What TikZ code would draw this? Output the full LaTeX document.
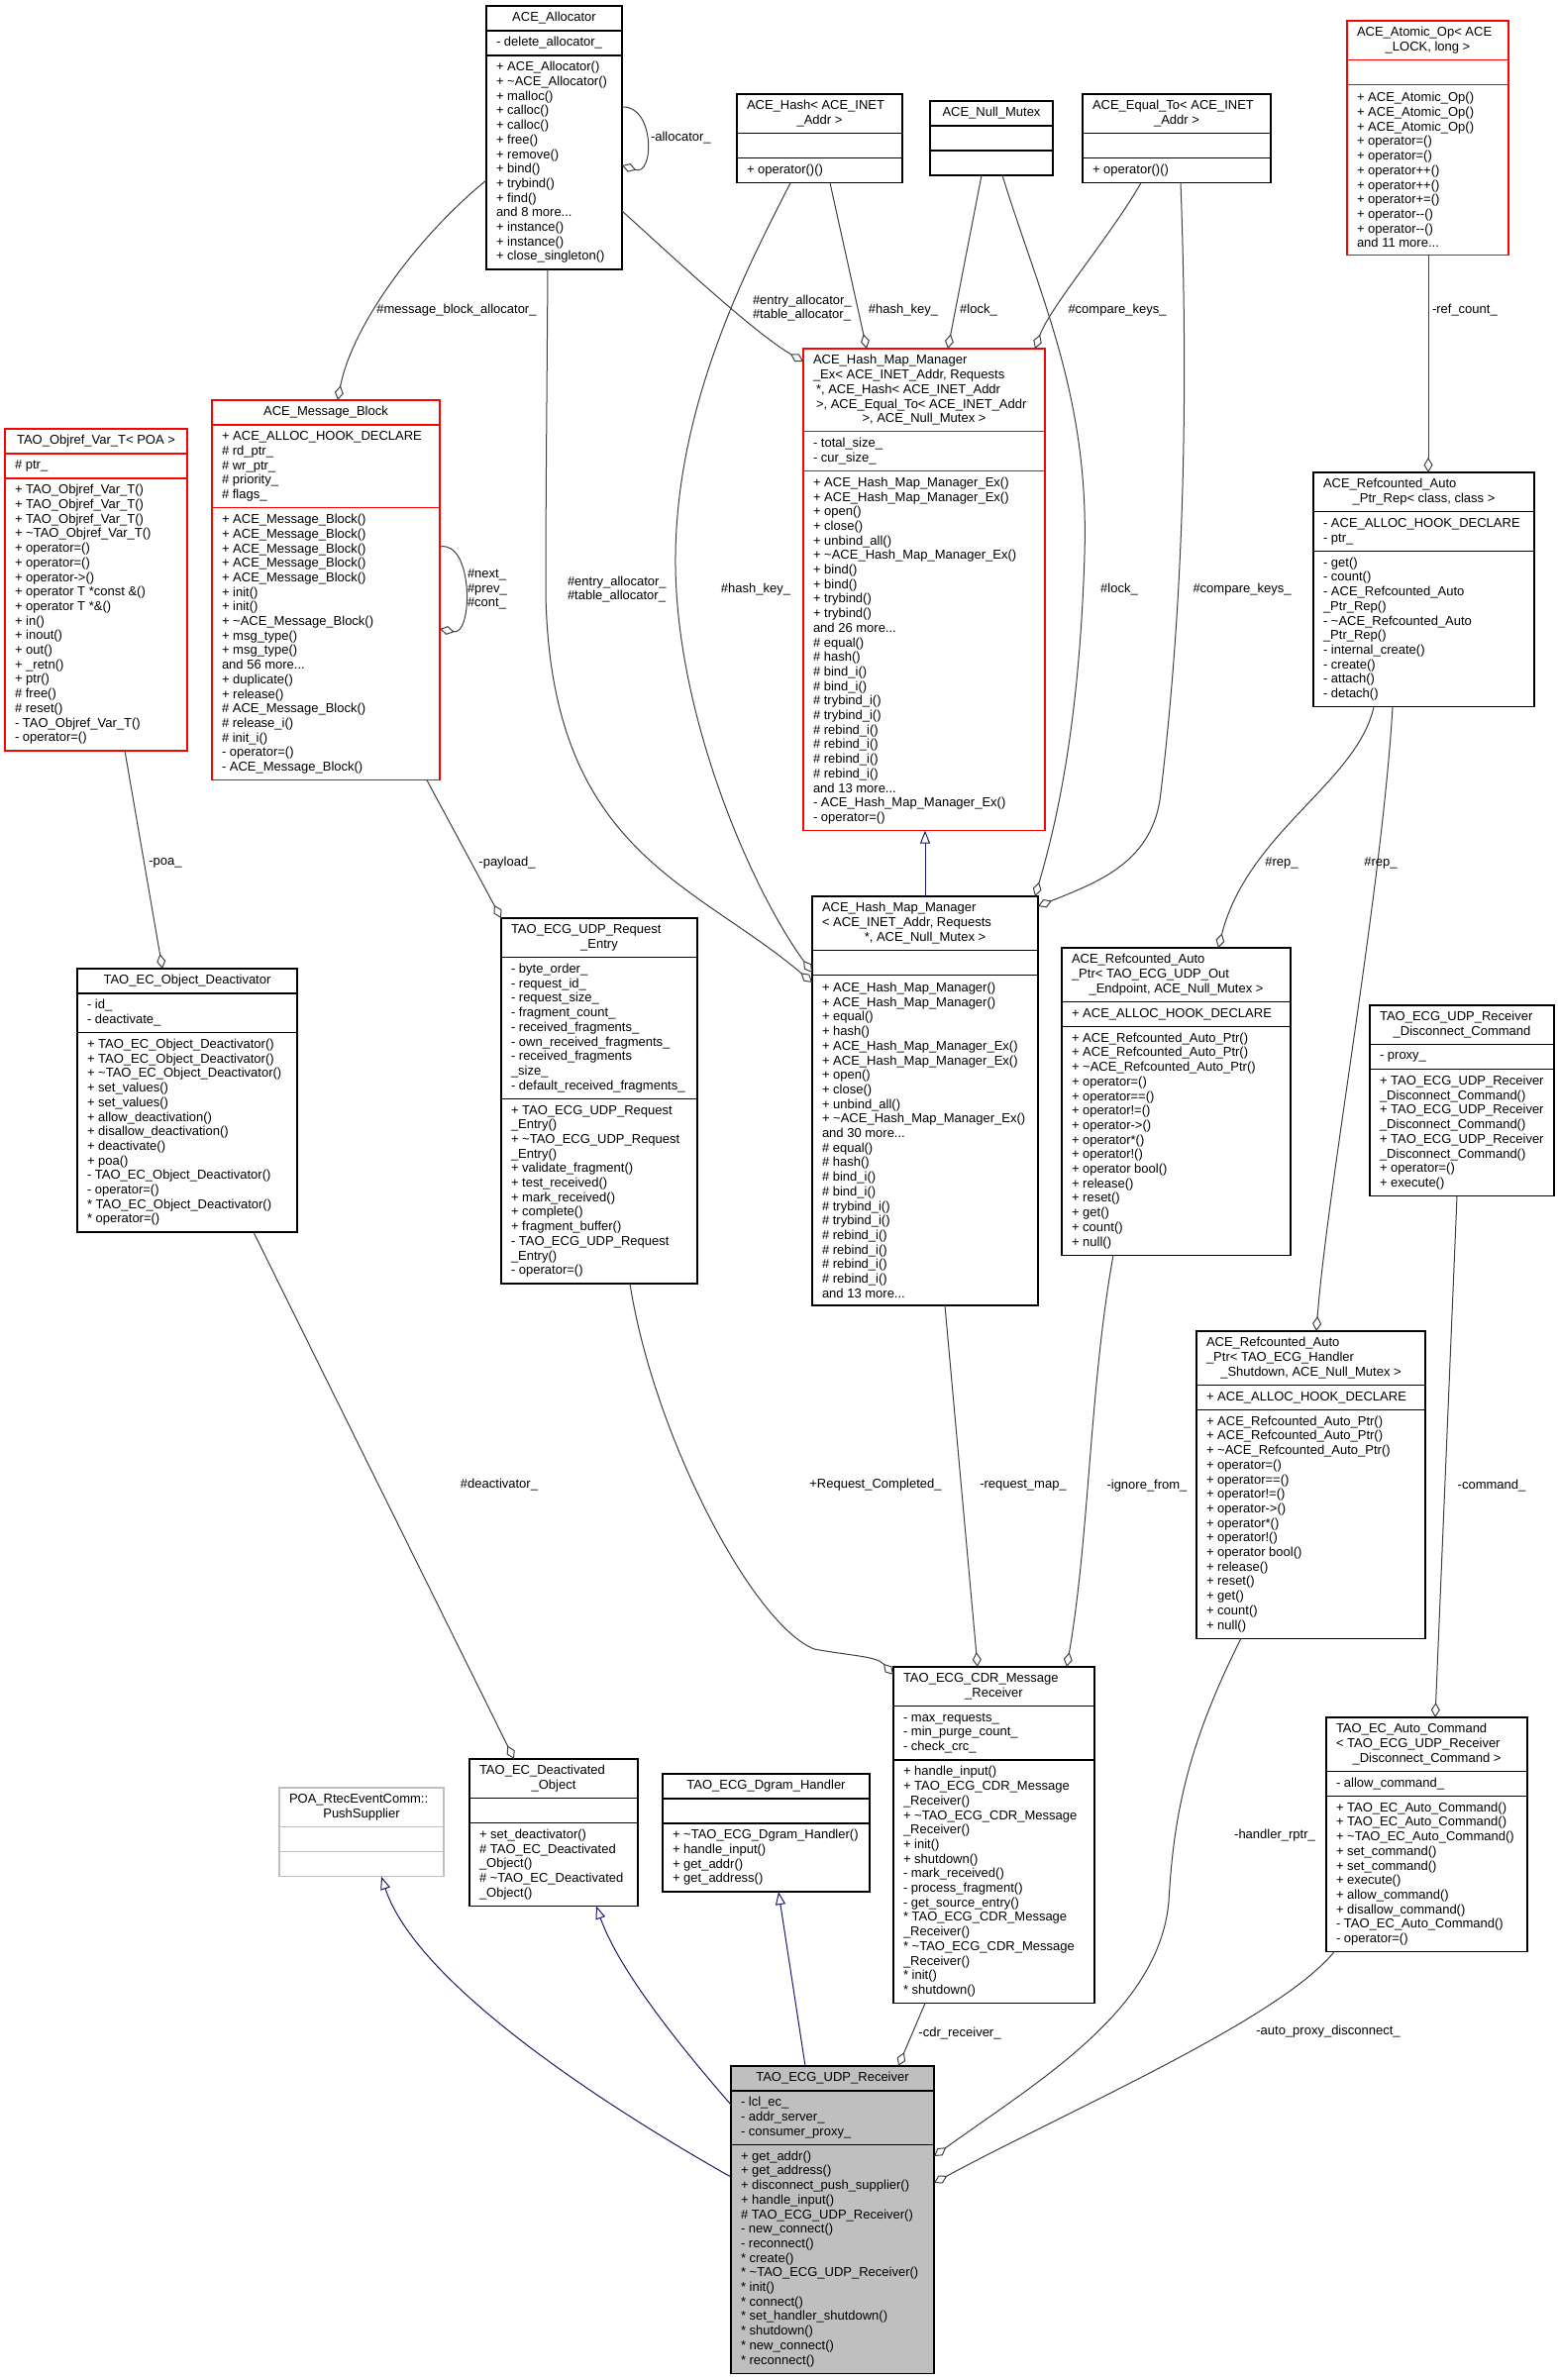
\documentclass[tikz,border=0pt]{standalone}
\usepackage{fontspec}
\setmainfont{Liberation Sans}
\usetikzlibrary{arrows.meta,calc}
\definecolor{edgegrey}{HTML}{404040}
\definecolor{inhblue}{HTML}{191970}
\definecolor{boxgrey}{HTML}{BFBFBF}
\definecolor{boxred}{HTML}{FF0000}
\newlength\clw
\newcommand\cl[1]{\makebox[\clw][c]{#1}}
\newcommand\tld{\textasciitilde}
\newcommand\umlcls[8]{%
  \pgfmathsetmacro\uhA{max(#6,1)*14.7+10.3}%
  \pgfmathsetmacro\uhB{max(#7,1)*14.7+10.3}%
  \pgfmathsetmacro\uhC{max(#8,1)*14.7+10.3}%
  \pgfmathsetmacro\uhT{\uhA+\uhB+\uhC}%
  \pgfmathsetmacro\uhAB{\uhA+\uhB}%
  \setlength\clw{#4pt}\addtolength\clw{-20pt}%
  \node[#5, minimum width=#4pt, minimum height=\uhT pt, anchor=north west] (#1) at (#2,#3) {};
  \draw[#5 line] ($(#1.north west)+(0,\uhA)$) -- ++(#4,0);
  \draw[#5 line] ($(#1.north west)+(0,\uhAB)$) -- ++(#4,0);
  \node[txt] (#1-t) at ($(#1.north west)+(10,{\uhA/2})$) {\clsT};
  \ifnum#7>0 \node[txt] (#1-a) at ($(#1.north west)+(10,{\uhA+\uhB/2})$) {\clsA};\fi
  \ifnum#8>0 \node[txt] (#1-m) at ($(#1.north west)+(10,{\uhAB+\uhC/2})$) {\clsM};\fi
}
\tikzset{
  bxk/.style={draw=black, line width=1.3pt, inner sep=0pt, outer sep=0pt},
  bxk line/.style={draw=black, line width=1.3pt},
  bxr/.style={draw=boxred, line width=1.3pt, inner sep=0pt, outer sep=0pt},
  bxr line/.style={draw=boxred, line width=1.3pt},
  bxg/.style={draw=boxgrey, line width=1.3pt, inner sep=0pt, outer sep=0pt},
  bxg line/.style={draw=boxgrey, line width=1.3pt},
  bxf/.style={draw=black, fill=boxgrey, line width=1.3pt, inner sep=0pt, outer sep=0pt},
  bxf line/.style={draw=black, line width=1.3pt},
  txt/.style={inner sep=0pt, outer sep=0pt, anchor=west, align=left, font=\fontsize{13}{14.7}\selectfont},
  elab/.style={inner sep=0pt, outer sep=0pt, align=left, font=\fontsize{13}{14.7}\selectfont},
  agg/.style={draw=edgegrey, line width=1pt, -{Diamond[open, length=15pt, width=9pt]}},
  inh/.style={draw=inhblue, line width=1pt, -{Triangle[open, length=13pt, width=10pt]}},
}
\begin{document}
\begin{tikzpicture}[x=1pt, y=-1pt]
\fill[white] (0,0) rectangle (1573,2403);
\useasboundingbox (0,0) rectangle (1573,2403);

% ACE_Allocator
\def\clsT{\cl{ACE\_Allocator}}
\def\clsA{- delete\_allocator\_}
\def\clsM{+ ACE\_Allocator()\\+ \tld ACE\_Allocator()\\+ malloc()\\+ calloc()\\+ calloc()\\+ free()\\+ remove()\\+ bind()\\+ trybind()\\+ find()\\and 8 more...\\+ instance()\\+ instance()\\+ close\_singleton()}
\umlcls{alloc}{491}{6}{137}{bxk}{1}{1}{14}

% ACE_Hash
\def\clsT{ACE\_Hash< ACE\_INET\\\cl{\_Addr >}}
\def\clsM{+ operator()()}
\umlcls{hash}{744}{95}{167}{bxk}{2}{0}{1}

% ACE_Null_Mutex
\def\clsT{\cl{ACE\_Null\_Mutex}}
\umlcls{nullmutex}{939}{102}{124}{bxk}{1}{0}{0}

% ACE_Equal_To
\def\clsT{ACE\_Equal\_To< ACE\_INET\\\cl{\_Addr >}}
\def\clsM{+ operator()()}
\umlcls{equal}{1093}{95}{190}{bxk}{2}{0}{1}

% ACE_Atomic_Op
\def\clsT{ACE\_Atomic\_Op< ACE\\\cl{\_LOCK, long >}}
\def\clsM{+ ACE\_Atomic\_Op()\\+ ACE\_Atomic\_Op()\\+ ACE\_Atomic\_Op()\\+ operator=()\\+ operator=()\\+ operator++()\\+ operator++()\\+ operator+=()\\+ operator-{}-()\\+ operator-{}-()\\and 11 more...}
\umlcls{atomic}{1360}{21}{163}{bxr}{2}{0}{11}

% ACE_Hash_Map_Manager_Ex
\def\clsT{ACE\_Hash\_Map\_Manager\\\_Ex< ACE\_INET\_Addr, Requests\\\hspace*{3pt}*, ACE\_Hash< ACE\_INET\_Addr\\\hspace*{3pt}>, ACE\_Equal\_To< ACE\_INET\_Addr\\\cl{>, ACE\_Null\_Mutex >}}
\def\clsA{- total\_size\_\\- cur\_size\_}
\def\clsM{+ ACE\_Hash\_Map\_Manager\_Ex()\\+ ACE\_Hash\_Map\_Manager\_Ex()\\+ open()\\+ close()\\+ unbind\_all()\\+ \tld ACE\_Hash\_Map\_Manager\_Ex()\\+ bind()\\+ bind()\\+ trybind()\\+ trybind()\\and 26 more...\\\# equal()\\\# hash()\\\# bind\_i()\\\# bind\_i()\\\# trybind\_i()\\\# trybind\_i()\\\# rebind\_i()\\\# rebind\_i()\\\# rebind\_i()\\\# rebind\_i()\\and 13 more...\\- ACE\_Hash\_Map\_Manager\_Ex()\\- operator=()}
\umlcls{hmmex}{811}{352}{244}{bxr}{5}{2}{24}

% ACE_Message_Block
\def\clsT{\cl{ACE\_Message\_Block}}
\def\clsA{+ ACE\_ALLOC\_HOOK\_DECLARE\\\# rd\_ptr\_\\\# wr\_ptr\_\\\# priority\_\\\# flags\_}
\def\clsM{+ ACE\_Message\_Block()\\+ ACE\_Message\_Block()\\+ ACE\_Message\_Block()\\+ ACE\_Message\_Block()\\+ ACE\_Message\_Block()\\+ init()\\+ init()\\+ \tld ACE\_Message\_Block()\\+ msg\_type()\\+ msg\_type()\\and 56 more...\\+ duplicate()\\+ release()\\\# ACE\_Message\_Block()\\\# release\_i()\\\# init\_i()\\- operator=()\\- ACE\_Message\_Block()}
\umlcls{msgblock}{214}{404}{230}{bxr}{1}{5}{18}

% TAO_Objref_Var_T
\def\clsT{\cl{TAO\_Objref\_Var\_T< POA >}}
\def\clsA{\# ptr\_}
\def\clsM{+ TAO\_Objref\_Var\_T()\\+ TAO\_Objref\_Var\_T()\\+ TAO\_Objref\_Var\_T()\\+ \tld TAO\_Objref\_Var\_T()\\+ operator=()\\+ operator=()\\+ operator->()\\+ operator T *const \&()\\+ operator T *\&()\\+ in()\\+ inout()\\+ out()\\+ \_retn()\\+ ptr()\\\# free()\\\# reset()\\- TAO\_Objref\_Var\_T()\\- operator=()}
\umlcls{objref}{5}{433}{184}{bxr}{1}{1}{18}

% ACE_Refcounted_Auto_Ptr_Rep
\def\clsT{ACE\_Refcounted\_Auto\\\cl{\_Ptr\_Rep< class, class >}}
\def\clsA{- ACE\_ALLOC\_HOOK\_DECLARE\\- ptr\_}
\def\clsM{- get()\\- count()\\- ACE\_Refcounted\_Auto\\\_Ptr\_Rep()\\- \tld ACE\_Refcounted\_Auto\\\_Ptr\_Rep()\\- internal\_create()\\- create()\\- attach()\\- detach()}
\umlcls{refrep}{1326}{477}{223}{bxk}{2}{2}{10}

% ACE_Hash_Map_Manager
\def\clsT{ACE\_Hash\_Map\_Manager\\< ACE\_INET\_Addr, Requests\\\cl{*, ACE\_Null\_Mutex >}}
\def\clsM{+ ACE\_Hash\_Map\_Manager()\\+ ACE\_Hash\_Map\_Manager()\\+ equal()\\+ hash()\\+ ACE\_Hash\_Map\_Manager\_Ex()\\+ ACE\_Hash\_Map\_Manager\_Ex()\\+ open()\\+ close()\\+ unbind\_all()\\+ \tld ACE\_Hash\_Map\_Manager\_Ex()\\and 30 more...\\\# equal()\\\# hash()\\\# bind\_i()\\\# bind\_i()\\\# trybind\_i()\\\# trybind\_i()\\\# rebind\_i()\\\# rebind\_i()\\\# rebind\_i()\\\# rebind\_i()\\and 13 more...}
\umlcls{hmm}{820}{905}{228}{bxk}{3}{0}{22}

% ACE_Refcounted_Auto_Ptr<TAO_ECG_UDP_Out_Endpoint>
\def\clsT{ACE\_Refcounted\_Auto\\\_Ptr< TAO\_ECG\_UDP\_Out\\\cl{\_Endpoint, ACE\_Null\_Mutex >}}
\def\clsA{+ ACE\_ALLOC\_HOOK\_DECLARE}
\def\clsM{+ ACE\_Refcounted\_Auto\_Ptr()\\+ ACE\_Refcounted\_Auto\_Ptr()\\+ \tld ACE\_Refcounted\_Auto\_Ptr()\\+ operator=()\\+ operator==()\\+ operator!=()\\+ operator->()\\+ operator*()\\+ operator!()\\+ operator bool()\\+ release()\\+ reset()\\+ get()\\+ count()\\+ null()}
\umlcls{outptr}{1072}{957}{231}{bxk}{3}{1}{15}

% TAO_ECG_UDP_Receiver_Disconnect_Command
\def\clsT{TAO\_ECG\_UDP\_Receiver\\\cl{\_Disconnect\_Command}}
\def\clsA{- proxy\_}
\def\clsM{+ TAO\_ECG\_UDP\_Receiver\\\_Disconnect\_Command()\\+ TAO\_ECG\_UDP\_Receiver\\\_Disconnect\_Command()\\+ TAO\_ECG\_UDP\_Receiver\\\_Disconnect\_Command()\\+ operator=()\\+ execute()}
\umlcls{disccmd}{1383}{1015}{186}{bxk}{2}{1}{8}

% TAO_ECG_UDP_Request_Entry
\def\clsT{TAO\_ECG\_UDP\_Request\\\cl{\_Entry}}
\def\clsA{- byte\_order\_\\- request\_id\_\\- request\_size\_\\- fragment\_count\_\\- received\_fragments\_\\- own\_received\_fragments\_\\- received\_fragments\\\_size\_\\- default\_received\_fragments\_}
\def\clsM{+ TAO\_ECG\_UDP\_Request\\\_Entry()\\+ \tld TAO\_ECG\_UDP\_Request\\\_Entry()\\+ validate\_fragment()\\+ test\_received()\\+ mark\_received()\\+ complete()\\+ fragment\_buffer()\\- TAO\_ECG\_UDP\_Request\\\_Entry()\\- operator=()}
\umlcls{reqentry}{506}{927}{198}{bxk}{2}{9}{12}

% TAO_EC_Object_Deactivator
\def\clsT{\cl{TAO\_EC\_Object\_Deactivator}}
\def\clsA{- id\_\\- deactivate\_}
\def\clsM{+ TAO\_EC\_Object\_Deactivator()\\+ TAO\_EC\_Object\_Deactivator()\\+ \tld TAO\_EC\_Object\_Deactivator()\\+ set\_values()\\+ set\_values()\\+ allow\_deactivation()\\+ disallow\_deactivation()\\+ deactivate()\\+ poa()\\- TAO\_EC\_Object\_Deactivator()\\- operator=()\\{}* TAO\_EC\_Object\_Deactivator()\\{}* operator=()}
\umlcls{objdeact}{78}{978}{222}{bxk}{1}{2}{13}

% ACE_Refcounted_Auto_Ptr<TAO_ECG_Handler_Shutdown>
\def\clsT{ACE\_Refcounted\_Auto\\\_Ptr< TAO\_ECG\_Handler\\\cl{\_Shutdown, ACE\_Null\_Mutex >}}
\def\clsA{+ ACE\_ALLOC\_HOOK\_DECLARE}
\def\clsM{+ ACE\_Refcounted\_Auto\_Ptr()\\+ ACE\_Refcounted\_Auto\_Ptr()\\+ \tld ACE\_Refcounted\_Auto\_Ptr()\\+ operator=()\\+ operator==()\\+ operator!=()\\+ operator->()\\+ operator*()\\+ operator!()\\+ operator bool()\\+ release()\\+ reset()\\+ get()\\+ count()\\+ null()}
\umlcls{shutptr}{1208}{1344}{231}{bxk}{3}{1}{15}

% TAO_ECG_CDR_Message_Receiver
\def\clsT{TAO\_ECG\_CDR\_Message\\\cl{\_Receiver}}
\def\clsA{- max\_requests\_\\- min\_purge\_count\_\\- check\_crc\_}
\def\clsM{+ handle\_input()\\+ TAO\_ECG\_CDR\_Message\\\_Receiver()\\+ \tld TAO\_ECG\_CDR\_Message\\\_Receiver()\\+ init()\\+ shutdown()\\- mark\_received()\\- process\_fragment()\\- get\_source\_entry()\\{}* TAO\_ECG\_CDR\_Message\\\_Receiver()\\{}* \tld TAO\_ECG\_CDR\_Message\\\_Receiver()\\{}* init()\\{}* shutdown()}
\umlcls{cdr}{902}{1683}{203}{bxk}{2}{3}{16}

% TAO_EC_Auto_Command
\def\clsT{TAO\_EC\_Auto\_Command\\< TAO\_ECG\_UDP\_Receiver\\\cl{\_Disconnect\_Command >}}
\def\clsA{- allow\_command\_}
\def\clsM{+ TAO\_EC\_Auto\_Command()\\+ TAO\_EC\_Auto\_Command()\\+ \tld TAO\_EC\_Auto\_Command()\\+ set\_command()\\+ set\_command()\\+ execute()\\+ allow\_command()\\+ disallow\_command()\\- TAO\_EC\_Auto\_Command()\\- operator=()}
\umlcls{autocmd}{1339}{1734}{203}{bxk}{3}{1}{10}

% POA_RtecEventComm::PushSupplier
\def\clsT{POA\_RtecEventComm::\\\cl{PushSupplier}}
\umlcls{poa}{282}{1805}{166}{bxg}{2}{0}{0}

% TAO_EC_Deactivated_Object
\def\clsT{TAO\_EC\_Deactivated\\\cl{\_Object}}
\def\clsM{+ set\_deactivator()\\\# TAO\_EC\_Deactivated\\\_Object()\\\# \tld TAO\_EC\_Deactivated\\\_Object()}
\umlcls{deactobj}{474}{1776}{170}{bxk}{2}{0}{5}

% TAO_ECG_Dgram_Handler
\def\clsT{\cl{TAO\_ECG\_Dgram\_Handler}}
\def\clsM{+ \tld TAO\_ECG\_Dgram\_Handler()\\+ handle\_input()\\+ get\_addr()\\+ get\_address()}
\umlcls{dgram}{669}{1791}{209}{bxk}{1}{0}{4}

% TAO_ECG_UDP_Receiver
\def\clsT{\cl{TAO\_ECG\_UDP\_Receiver}}
\def\clsA{- lcl\_ec\_\\- addr\_server\_\\- consumer\_proxy\_}
\def\clsM{+ get\_addr()\\+ get\_address()\\+ disconnect\_push\_supplier()\\+ handle\_input()\\\# TAO\_ECG\_UDP\_Receiver()\\- new\_connect()\\- reconnect()\\{}* create()\\{}* \tld TAO\_ECG\_UDP\_Receiver()\\{}* init()\\{}* connect()\\{}* set\_handler\_shutdown()\\{}* shutdown()\\{}* new\_connect()\\{}* reconnect()}
\umlcls{udprecv}{738}{2086}{205}{bxf}{1}{3}{15}

% ---------- aggregation edges ----------
\draw[agg] ($(alloc.north west)+(137,102)$) .. controls ($(alloc.north west)+(170,100)$) and ($(alloc.north west)+(170,172)$) .. ($(alloc.north west)+(137,161)$);
\draw[agg] ($(alloc.north west)+(0,176)$) .. controls (420,240) and (355,330) .. ($(msgblock.north west)+(127,0)$);
\draw[agg] ($(alloc.north west)+(137,207)$) .. controls (680,260) and (760,335) .. ($(hmmex.north west)+(0,13)$);
\draw[agg] ($(alloc.south west)+(62,0)$) .. controls (552,420) and (551,500) .. (551,600) .. controls (556,860) and (700,890) .. ($(hmm.north west)+(0,87)$);
\draw[agg] ($(hash.south west)+(94,0)$) -- ($(hmmex.north west)+(64,0)$);
\draw[agg] ($(hash.south west)+(54,0)$) .. controls (760,260) and (684,400) .. (682,560) .. controls (680,720) and (760,900) .. ($(hmm.north west)+(0,77)$);
\draw[agg] ($(nullmutex.south west)+(52,0)$) -- ($(hmmex.north west)+(146,0)$);
\draw[agg] ($(nullmutex.south west)+(73,0)$) .. controls (1050,300) and (1100,400) .. (1095,560) .. controls (1090,720) and (1070,820) .. ($(hmm.north west)+(225,0)$);
\draw[agg] ($(equal.south west)+(59,0)$) .. controls (1120,240) and (1060,310) .. ($(hmmex.north west)+(234,0)$);
\draw[agg] ($(equal.south west)+(99,0)$) .. controls (1202,450) and (1190,650) .. (1172,800) .. controls (1165,870) and (1110,890) .. ($(hmm.north west)+(228,10)$);
\draw[agg] ($(atomic.south west)+(82,0)$) -- ($(refrep.north west)+(116,0)$);
\draw[agg] ($(refrep.south west)+(61,0)$) .. controls (1370,790) and (1260,840) .. ($(outptr.north west)+(158,0)$);
\draw[agg] ($(refrep.south west)+(80,0)$) .. controls (1395,900) and (1340,1200) .. ($(shutptr.north west)+(121,0)$);
\draw[agg] ($(msgblock.south west)+(217,0)$) -- (reqentry.north west);
\draw[agg] ($(msgblock.north west)+(230,148)$) .. controls (478,545) and (478,642) .. ($(msgblock.north west)+(230,231)$);
\draw[agg] ($(objref.south west)+(121,0)$) -- ($(objdeact.north west)+(86,0)$);
\draw[agg] ($(objdeact.south west)+(178,0)$) -- ($(deactobj.north west)+(45,0)$);
\draw[agg] ($(reqentry.south west)+(130,0)$) .. controls (660,1450) and (760,1640) .. (822,1665) .. controls (860,1672) and (885,1672) .. ($(cdr.north west)+(0,8)$);
\draw[agg] ($(hmm.south west)+(134,0)$) -- ($(cdr.north west)+(85,0)$);
\draw[agg] ($(outptr.south west)+(52,0)$) .. controls (1100,1400) and (1100,1550) .. ($(cdr.north west)+(175,0)$);
\draw[agg] ($(disccmd.south west)+(88,0)$) -- ($(autocmd.north west)+(110,0)$);
\draw[agg] ($(cdr.south west)+(32,0)$) -- ($(udprecv.north west)+(169,0)$);
\draw[agg] ($(shutptr.south west)+(45,0)$) .. controls (1200,1760) and (1185,1830) .. (1180,1920) .. controls (1170,2030) and (1050,2100) .. ($(udprecv.north west)+(205,91)$);
\draw[agg] ($(autocmd.south west)+(8,0)$) .. controls (1290,2040) and (1080,2130) .. ($(udprecv.north west)+(205,118)$);

% ---------- inheritance edges ----------
\draw[inh] ($(hmm.north west)+(114,0)$) -- ($(hmmex.south west)+(123,0)$);
\draw[inh] ($(udprecv.north west)+(0,112)$) .. controls (600,2120) and (420,2000) .. ($(poa.south west)+(103,0)$);
\draw[inh] ($(udprecv.north west)+(0,39)$) .. controls (690,2070) and (625,1990) .. ($(deactobj.south west)+(128,0)$);
\draw[inh] ($(udprecv.north west)+(75,0)$) -- ($(dgram.south west)+(117,0)$);

% ---------- edge labels ----------
\node[elab, anchor=west] (l1) at (657,139) {-allocator\_};
\node[elab] (l2) at (461,313) {\#message\_block\_allocator\_};
\node[elab, anchor=west] (l3) at (760,311) {\#entry\_allocator\_\\\#table\_allocator\_};
\node[elab, anchor=west] (l4) at (573,595) {\#entry\_allocator\_\\\#table\_allocator\_};
\node[elab] (l5) at (912,313) {\#hash\_key\_};
\node[elab] (l6) at (763,595) {\#hash\_key\_};
\node[elab] (l7) at (988,313) {\#lock\_};
\node[elab] (l8) at (1130,595) {\#lock\_};
\node[elab] (l9) at (1128,313) {\#compare\_keys\_};
\node[elab] (l10) at (1254,595) {\#compare\_keys\_};
\node[elab, anchor=west] (l11) at (1446,313) {-ref\_count\_};
\node[elab] (l12) at (1294,871) {\#rep\_};
\node[elab] (l13) at (1394,871) {\#rep\_};
\node[elab] (l14) at (512,871) {-payload\_};
\node[elab, anchor=west] (l15) at (472,595) {\#next\_\\\#prev\_\\\#cont\_};
\node[elab] (l16) at (167,871) {-poa\_};
\node[elab] (l17) at (504,1499) {\#deactivator\_};
\node[elab] (l18) at (884,1499) {+Request\_Completed\_};
\node[elab] (l19) at (1033,1500) {-request\_map\_};
\node[elab] (l20) at (1158,1500) {-ignore\_from\_};
\node[elab] (l21) at (1506,1500) {-command\_};
\node[elab] (l22) at (969,2053) {-cdr\_receiver\_};
\node[elab] (l23) at (1287,1853) {-handler\_rptr\_};
\node[elab] (l24) at (1341,2051) {-auto\_proxy\_disconnect\_};
\end{tikzpicture}
\end{document}
